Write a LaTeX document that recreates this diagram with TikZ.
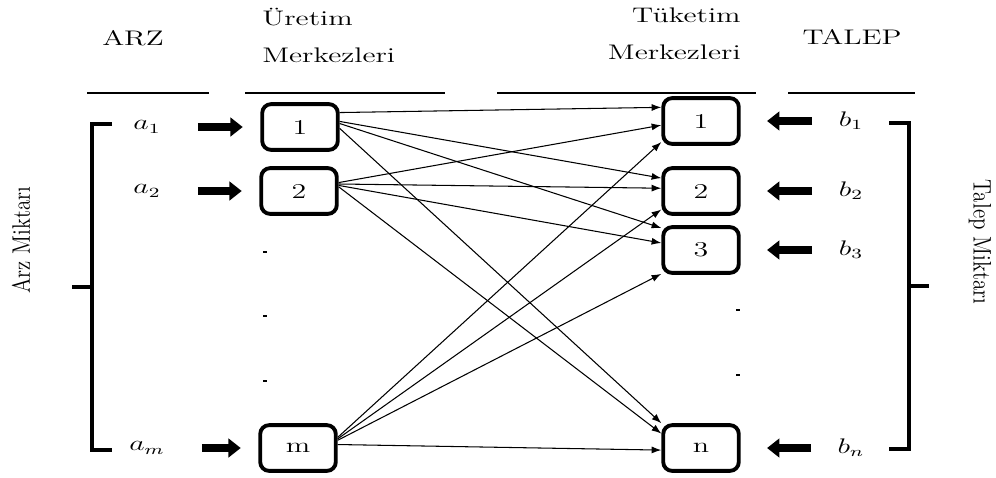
\documentclass[tikz,border=0pt]{standalone}
\usepackage{graphicx}
\usetikzlibrary{arrows.meta}
\newcommand{\wide}[1]{\scalebox{1.42}[1]{#1}}

\begin{document}
\begin{tikzpicture}[
  x=0.02cm, y=-0.02cm,
  every node/.style={font=\fontsize{12}{21}\selectfont, inner sep=0pt},
  hub/.style={draw, line width=2.2pt, rounded corners=5pt,
    minimum width=43pt, minimum height=26pt},
  flow/.style={-{Latex[length=5.5pt,width=4pt]}, line width=0.6pt},
  supply/.style={-{Triangle[length=7pt,width=10.5pt]}, line width=4pt,
    shorten <=21pt, shorten >=10pt},
  demand/.style={-{Triangle[length=7pt,width=10.5pt]}, line width=4pt,
    shorten <=15pt, shorten >=15pt},
  headrule/.style={line width=1.1pt},
  bracket/.style={line width=2.4pt}
]
  \useasboundingbox (0,0) rectangle (996,477);

  % Column headings and their rules.
  \node (harz) at (133,38) {\wide{ARZ}};
  \node[anchor=north west, align=left] (huret) at (262,8)
    {\wide{Üretim}\\\wide{Merkezleri}};
  \node[anchor=north east, align=right] (htuk) at (741,8)
    {\wide{Tüketim}\\\wide{Merkezleri}};
  \node (htal) at (852,37) {\wide{TALEP}};
  \draw[headrule] (87,93) -- (209,93);
  \draw[headrule] (245,93) -- (445,93);
  \draw[headrule] (497,93) -- (756,93);
  \draw[headrule] (788,93) -- (915,93);

  % Production centres with their supplies.
  \node[hub] (L1) at (300,127) {\wide{1}};
  \node[hub] (L2) at (299,191) {\wide{2}};
  \node[hub] (Lm) at (298,448) {\wide{m}};
  \node (a1) at (147,127) {\wide{$a_1$}};
  \node (a2) at (147,191) {\wide{$a_2$}};
  \node (am) at (147,448) {\wide{$a_m$}};
  \draw[supply] (a1) -- (L1);
  \draw[supply] (a2) -- (L2);
  \draw[supply] (am) -- (Lm);
  \foreach \y in {252,316,381}
    \fill (263,\y-0.8) rectangle (267,\y+0.8);

  % Consumption centres with their demands.
  \node[hub] (R1) at (701,121) {\wide{1}};
  \node[hub] (R2) at (701,191) {\wide{2}};
  \node[hub] (R3) at (701,250) {\wide{3}};
  \node[hub] (Rn) at (701,448) {\wide{n}};
  \node (b1) at (851,121) {\wide{$b_1$}};
  \node (b2) at (851,191) {\wide{$b_2$}};
  \node (b3) at (851,250) {\wide{$b_3$}};
  \node (bn) at (851,448) {\wide{$b_n$}};
  \draw[demand] (b1) -- (R1);
  \draw[demand] (b2) -- (R2);
  \draw[demand] (b3) -- (R3);
  \draw[demand] (bn) -- (Rn);
  \foreach \y in {310,375}
    \fill (736,\y-0.8) rectangle (740,\y+0.8);

  % Every production centre ships to every consumption centre.
  \draw[flow] (L1.20) -- (R1.161);
  \draw[flow] (L1.8) -- (R2.162);
  \draw[flow] (L1.5) -- (R3.151);
  \draw[flow] (L1.-2) -- (Rn.148);
  \draw[flow] (L2.12) -- (R1.186);
  \draw[flow] (L2.10) -- (R2.176);
  \draw[flow] (L2.8) -- (R3.170);
  \draw[flow] (L2.6) -- (Rn.160);
  \draw[flow] (Lm.15) -- (R1.208);
  \draw[flow] (Lm.13) -- (R2.205);
  \draw[flow] (Lm.11) -- (R3.211);
  \draw[flow] (Lm.5) -- (Rn.183);

  % Side brackets.
  \draw[bracket] (112,124) -- (92,124) -- (92,450) -- (112,450);
  \draw[bracket] (92,287) -- (72,287);
  \draw[bracket] (889,123) -- (909,123) -- (909,449) -- (889,449);
  \draw[bracket] (909,286) -- (929,286);
  \node (arzm) at (21,240) {\scalebox{1.2}[1]{\rotatebox{90}{Arz Miktarı}}};
  \node (talm) at (980,242) {\scalebox{1.2}[1]{\rotatebox{-90}{Talep Miktarı}}};
\end{tikzpicture}
\end{document}
